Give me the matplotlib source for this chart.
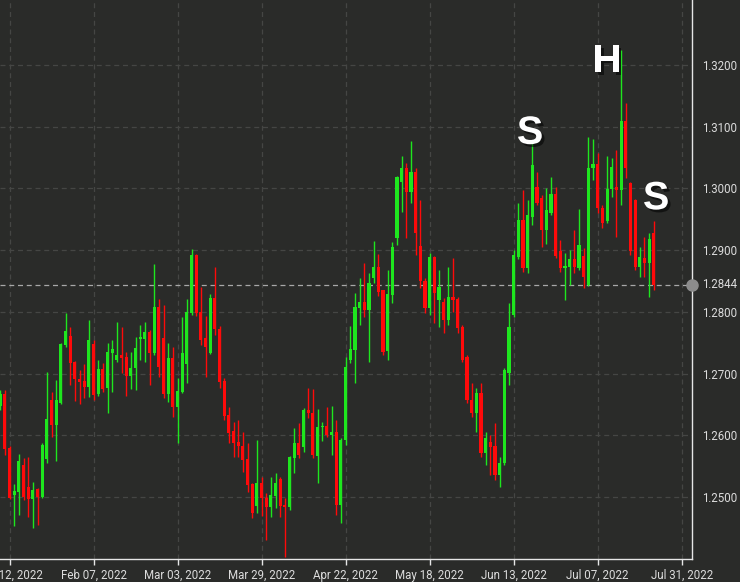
import numpy as np
import matplotlib
matplotlib.use("Agg")
import matplotlib.pyplot as plt
import matplotlib.patheffects as pe

# ---- data (daily OHLC, weekday bars from Jan 10, 2022) ----
opens = [1.2647,1.2667,1.2579,1.2503,1.2508,1.2552,1.2516,1.2497,1.2513,1.2500,
         1.2561,1.2657,1.2617,1.2652,1.2746,1.2761,1.2719,1.2691,1.2688,1.2678,
         1.2748,1.2667,1.2707,1.2677,1.2733,1.2722,1.2730,1.2727,1.2696,1.2709,
         1.2756,1.2756,1.2767,1.2733,1.2808,1.2758,1.2667,1.2725,1.2646,1.2670,
         1.2716,1.2798,1.2892,1.2800,1.2758,1.2733,1.2822,1.2772,1.2688,1.2633,
         1.2607,1.2589,1.2583,1.2561,1.2521,1.2485,1.2523,1.2498,1.2484,1.2502,
         1.2529,1.2487,1.2484,1.2563,1.2588,1.2581,1.2641,1.2636,1.2566,1.2613,
         1.2615,1.2600,1.2605,1.2487,1.2592,1.2722,1.2738,1.2806,1.2816,1.2803,
         1.2855,1.2873,1.2835,1.2736,1.2827,1.2920,1.3010,1.3033,1.2994,1.3027,
         1.2907,1.2850,1.2806,1.2889,1.2819,1.2816,1.2787,1.2824,1.2821,1.2775,
         1.2727,1.2657,1.2636,1.2669,1.2571,1.2589,1.2583,1.2536,1.2555,1.2701,
         1.2795,1.2889,1.2949,1.2871,1.2954,1.3002,1.2984,1.2933,1.2960,1.2991,
         1.2899,1.2871,1.2873,1.2886,1.2871,1.2890,1.2844,1.3033,1.3040,1.2968,
         1.2947,1.2999,1.3003,1.2998,1.3109,1.3009,1.2981,1.2873,1.2887,1.2879,
         1.2928]
highs = [1.2673,1.2673,1.2583,1.2521,1.2570,1.2563,1.2565,1.2524,1.2514,1.2588,
         1.2702,1.2670,1.2690,1.2750,1.2798,1.2775,1.2720,1.2706,1.2716,1.2787,
         1.2754,1.2722,1.2717,1.2750,1.2754,1.2784,1.2775,1.2735,1.2735,1.2759,
         1.2779,1.2784,1.2771,1.2878,1.2821,1.2811,1.2750,1.2743,1.2693,1.2792,
         1.2821,1.2902,1.2893,1.2840,1.2793,1.2829,1.2873,1.2777,1.2693,1.2646,
         1.2621,1.2625,1.2605,1.2587,1.2522,1.2592,1.2532,1.2506,1.2532,1.2539,
         1.2532,1.2498,1.2566,1.2612,1.2620,1.2644,1.2677,1.2675,1.2643,1.2621,
         1.2646,1.2647,1.2625,1.2596,1.2727,1.2777,1.2831,1.2855,1.2879,1.2863,
         1.2915,1.2894,1.2836,1.2868,1.2913,1.3020,1.3053,1.3041,1.3077,1.3033,
         1.2981,1.2855,1.2895,1.2890,1.2868,1.2822,1.2873,1.2887,1.2824,1.2779,
         1.2730,1.2685,1.2677,1.2685,1.2605,1.2600,1.2620,1.2565,1.2709,1.2814,
         1.2900,1.2976,1.2997,1.2981,1.3078,1.3027,1.2989,1.3001,1.3019,1.3002,
         1.2916,1.2895,1.2900,1.2933,1.2967,1.2903,1.3083,1.3080,1.3057,1.2973,
         1.3053,1.3049,1.3062,1.3224,1.3138,1.3011,1.2983,1.2905,1.2921,1.2928,
         1.2947]
lows = [1.2641,1.2568,1.2497,1.2453,1.2471,1.2495,1.2468,1.2450,1.2455,1.2498,
        1.2555,1.2597,1.2558,1.2651,1.2743,1.2681,1.2655,1.2651,1.2660,1.2662,
        1.2657,1.2664,1.2670,1.2636,1.2670,1.2719,1.2701,1.2664,1.2675,1.2673,
        1.2722,1.2719,1.2681,1.2730,1.2694,1.2660,1.2654,1.2630,1.2587,1.2668,
        1.2685,1.2795,1.2793,1.2746,1.2694,1.2732,1.2762,1.2677,1.2625,1.2587,
        1.2565,1.2565,1.2540,1.2508,1.2466,1.2474,1.2469,1.2430,1.2468,1.2482,
        1.2468,1.2403,1.2479,1.2539,1.2563,1.2573,1.2628,1.2563,1.2523,1.2591,
        1.2597,1.2568,1.2471,1.2458,1.2584,1.2717,1.2685,1.2779,1.2792,1.2719,
        1.2847,1.2826,1.2730,1.2722,1.2814,1.2908,1.2962,1.2920,1.2976,1.2892,
        1.2839,1.2798,1.2795,1.2782,1.2775,1.2766,1.2779,1.2800,1.2766,1.2719,
        1.2652,1.2630,1.2605,1.2565,1.2552,1.2536,1.2527,1.2516,1.2552,1.2681,
        1.2792,1.2886,1.2865,1.2863,1.2941,1.2973,1.2905,1.2910,1.2957,1.2887,
        1.2865,1.2819,1.2844,1.2863,1.2868,1.2839,1.2842,1.3014,1.2960,1.2936,
        1.2944,1.2986,1.2921,1.2973,1.3017,1.2892,1.2868,1.2856,1.2856,1.2824,
        1.2835]
closes = [1.2667,1.2578,1.2498,1.2510,1.2558,1.2500,1.2497,1.2511,1.2500,1.2584,
          1.2626,1.2617,1.2657,1.2748,1.2769,1.2717,1.2691,1.2686,1.2678,1.2754,
          1.2665,1.2707,1.2675,1.2735,1.2740,1.2730,1.2725,1.2696,1.2709,1.2741,
          1.2759,1.2767,1.2733,1.2808,1.2711,1.2667,1.2725,1.2646,1.2672,1.2733,
          1.2800,1.2892,1.2798,1.2754,1.2743,1.2822,1.2772,1.2686,1.2631,1.2604,
          1.2587,1.2583,1.2560,1.2519,1.2474,1.2523,1.2498,1.2484,1.2503,1.2523,
          1.2485,1.2484,1.2565,1.2588,1.2568,1.2641,1.2636,1.2568,1.2613,1.2615,
          1.2600,1.2605,1.2487,1.2592,1.2711,1.2740,1.2808,1.2816,1.2803,1.2847,
          1.2873,1.2832,1.2735,1.2829,1.2905,1.3019,1.3033,1.2994,1.3027,1.2928,
          1.2850,1.2806,1.2889,1.2831,1.2840,1.2787,1.2824,1.2819,1.2774,1.2722,
          1.2657,1.2636,1.2669,1.2571,1.2596,1.2581,1.2536,1.2555,1.2706,1.2775,
          1.2892,1.2949,1.2871,1.2957,1.3038,1.2976,1.2933,1.2965,1.2991,1.2891,
          1.2871,1.2874,1.2886,1.2873,1.2908,1.2856,1.3033,1.3040,1.2968,1.2944,
          1.2999,1.3035,1.2997,1.3109,1.3033,1.2899,1.2873,1.2889,1.2879,1.2918,
          1.2844]

tick_labels = ["Jan 12, 2022", "Feb 07, 2022", "Mar 03, 2022", "Mar 29, 2022",
               "Apr 22, 2022", "May 18, 2022", "Jun 13, 2022", "Jul 07, 2022",
               "Jul 31, 2022"]
y_ticks = [1.25, 1.26, 1.27, 1.28, 1.29, 1.30, 1.31, 1.32]
last_price = 1.2844
pattern_labels = ["S", "H", "S"]
pattern_bars = [113.5, 130.0, 140.5]
pattern_prices = [1.3090, 1.3206, 1.2984]

# ---- style ----
BG = "#2a2b29"
GREEN = "#1ee61e"
RED = "#ff0a0a"
TXT = "#dcdcdc"

fig = plt.figure(figsize=(7.40, 5.82), dpi=100, facecolor=BG)
ax = fig.add_axes([0.0, 23/582, 692/740, 1 - 23/582])
ax.set_facecolor(BG)

o = np.array(opens); h = np.array(highs); l = np.array(lows); c = np.array(closes)
x = np.arange(len(o))
up = c >= o
cols = np.where(up, GREEN, RED)

ax.vlines(x, l, h, colors=cols, linewidth=1.0, zorder=3)
body_bottom = np.minimum(o, c)
body_h = np.maximum(np.abs(c - o), 0.00008)
ax.bar(x, body_h, bottom=body_bottom, width=0.66, color=cols, linewidth=0, zorder=4)

# axes limits
ax.set_xlim(-0.04, 148.2)
ax.set_ylim(1.23995, 1.33053)

# ticks
xt = np.arange(2, 2 + 18 * len(tick_labels), 18)
ax.set_xticks(xt)
ax.set_xticklabels(tick_labels)
ax.set_yticks(y_ticks)
ax.set_yticklabels([f"{v:.4f}" for v in y_ticks])
ax.yaxis.tick_right()
ax.tick_params(axis="x", colors="#e6e6e6", length=4, width=1, pad=3,
               labelsize=8.3, labelcolor=TXT)
ax.tick_params(axis="y", length=0, pad=7, labelsize=8.3, labelcolor=TXT)
for lab in ax.get_xticklabels() + ax.get_yticklabels():
    lab.set_fontfamily("Roboto")

for s in ["left", "top"]:
    ax.spines[s].set_visible(False)
for s in ["right", "bottom"]:
    ax.spines[s].set_color("#e6e6e6")
    ax.spines[s].set_linewidth(1.0)

ax.grid(True, color="#454644", linestyle=(0, (4, 3)), linewidth=0.9, zorder=0)
ax.set_axisbelow(True)

# last price line, marker and label
ax.axhline(last_price, color="#a8a8a8", linestyle=(0, (4, 3)), linewidth=0.9, zorder=2)
ax.plot([1.0], [last_price], marker="o", markersize=8, color="#8c8c8c",
        transform=ax.get_yaxis_transform(), clip_on=False, zorder=6)
ax.annotate(f"{last_price:.4f}", (1.0, last_price), xycoords=ax.get_yaxis_transform(),
            xytext=(7, 0), textcoords="offset points", ha="left", va="center",
            fontsize=8.3, color=TXT, family="Roboto", annotation_clip=False)

# head & shoulders labels
shadow = [pe.withSimplePatchShadow(offset=(2, -2), shadow_rgbFace="black", alpha=0.55)]
for lab, bx, py in zip(pattern_labels, pattern_bars, pattern_prices):
    ax.text(bx, py, lab, ha="center", va="center", fontsize=28.5, fontweight="bold",
            family="Liberation Sans", color="white", zorder=8, path_effects=shadow)

fig.savefig("out.png", dpi=100, facecolor=BG)
